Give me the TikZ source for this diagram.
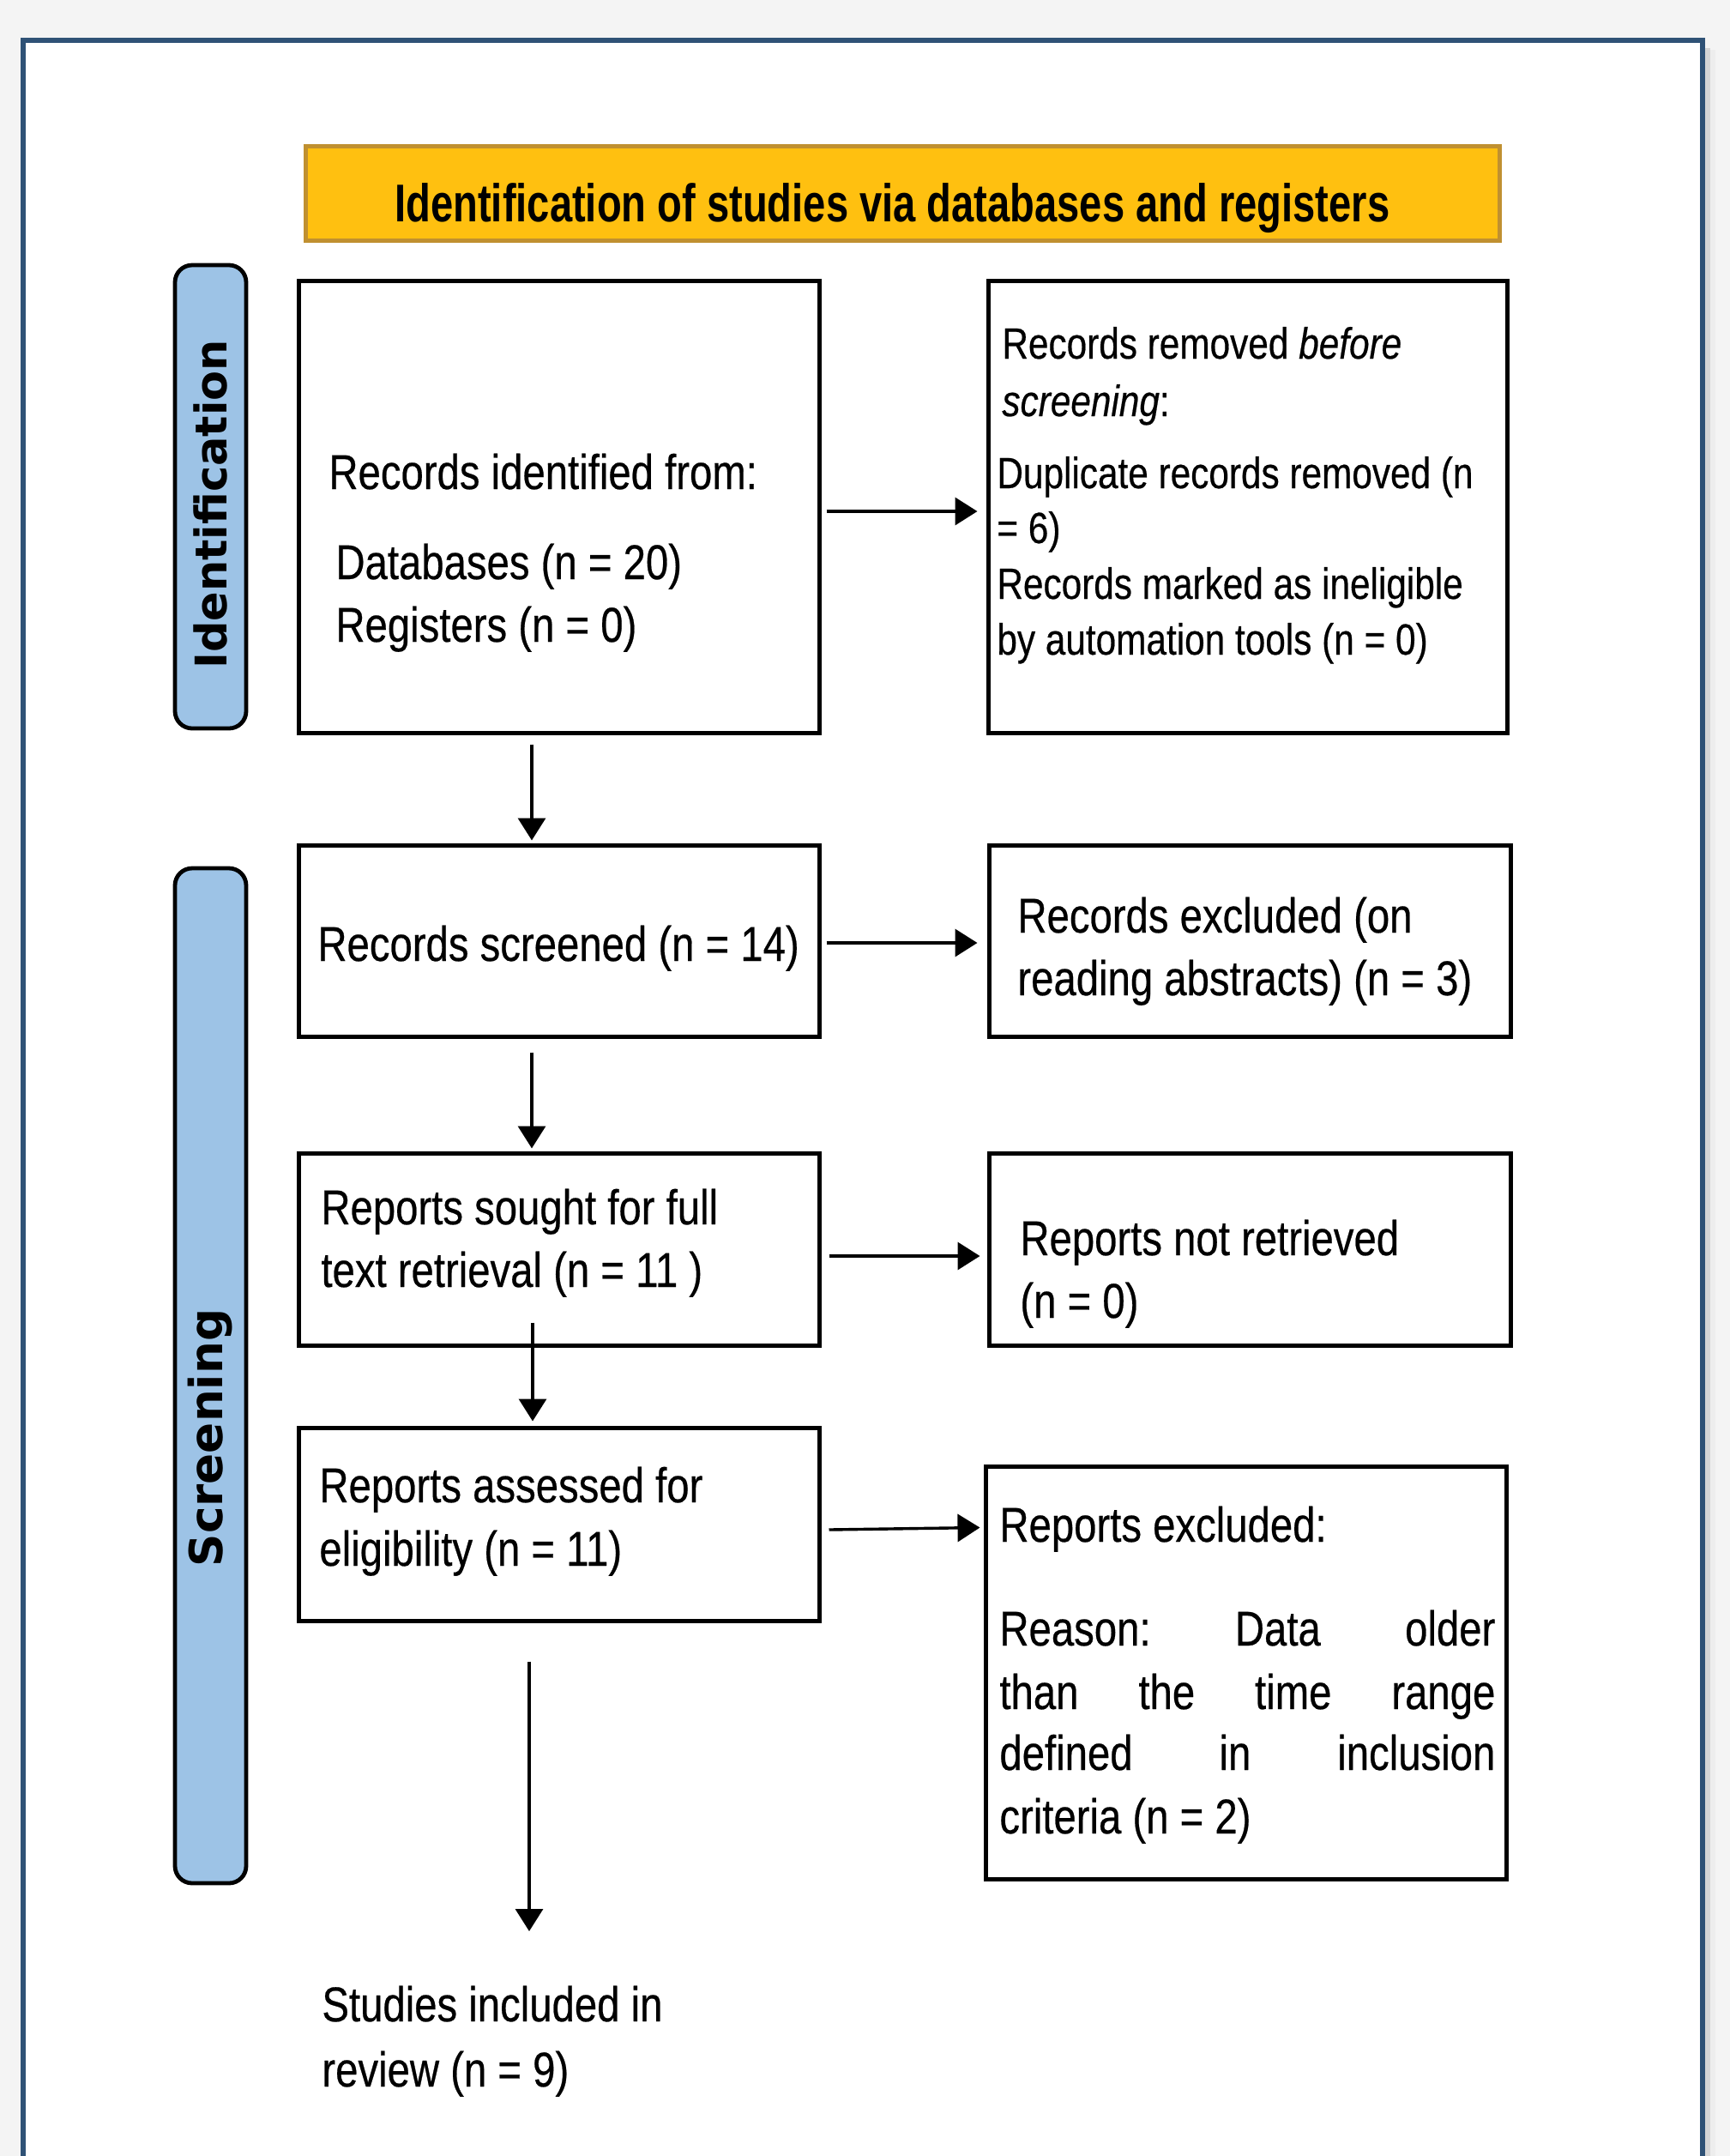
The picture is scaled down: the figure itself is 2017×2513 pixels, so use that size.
\documentclass[tikz,border=0pt]{standalone}
\usepackage{fontspec}
\setmainfont{Liberation Sans}[FakeStretch=0.83,FakeBold=0.4]
\newfontfamily\hdfont{Liberation Sans}[FakeStretch=0.76]
\newfontfamily\sidefont{DejaVu Sans}
\usetikzlibrary{arrows.meta,fit}
\definecolor{bgc}{RGB}{244,244,244}
\definecolor{framec}{RGB}{47,82,118}
\definecolor{hdfill}{RGB}{255,192,16}
\definecolor{hdline}{RGB}{192,144,48}
\definecolor{sidefill}{RGB}{157,195,230}
\tikzset{
  boxnode/.style={draw=black, line width=2.5pt, inner sep=0pt, fill=white},
  txt/.style={inner sep=0pt, anchor=base west, font=\fontsize{28.5pt}{36.5pt}\selectfont},
  smalltxt/.style={inner sep=0pt, anchor=base west, font=\fontsize{25.5pt}{32.5pt}\selectfont},
  arr/.style={line width=1.7pt, -{Triangle[length=13pt,width=16pt]}},
  sidebox/.style={draw=black, line width=2.4pt, fill=sidefill, rounded corners=10pt, inner sep=0pt},
  sidetxt/.style={rotate=90, inner sep=0pt, font=\sidefont\bfseries\fontsize{25.5pt}{30pt}\selectfont},
}
\begin{document}
\begin{tikzpicture}[x=0.5pt,y=-0.5pt]
\useasboundingbox (0,0) rectangle (2017,2513);
% page background and frame
\fill[bgc] (0,0) rectangle (2017,2513);
\fill[black!16] (1988,56) rectangle (1994,2513);
\fill[black!7] (1994,58) rectangle (2000,2513);
\fill[white] (27,47) rectangle (1985,2513);
\draw[framec, line width=2.6pt] (27,2513) -- (27,47) -- (1985,47) -- (1985,2513);

% header
\node[fit={(356,170) (1748,280)}, fill=hdfill, draw=hdline, line width=2.5pt, inner sep=0pt] (HD) {};
\node[anchor=base west, inner sep=0pt, font=\hdfont\bfseries\fontsize{31pt}{36pt}\selectfont] (HDT) at (460,258) {Identification of studies via databases and registers};

% side labels
\node[sidebox, fit={(204,309) (287,849)}] (SI) {};
\node[sidetxt] (SIT) at (245,588) {Identification};
\node[sidebox, fit={(204,1012) (287,2195)}] (SS) {};
\node[sidetxt, font=\sidefont\bfseries\fontsize{26.6pt}{30pt}\selectfont] (SST) at (245,1676) {Screening};

% boxes
\node[boxnode, fit={(348,327) (955,854)}] (A) {};
\node[boxnode, fit={(1152,327) (1757,854)}] (B) {};
\node[boxnode, fit={(348,985) (955,1208)}] (C) {};
\node[boxnode, fit={(1153,985) (1761,1208)}] (D) {};
\node[boxnode, fit={(348,1344) (955,1568)}] (E) {};
\node[boxnode, fit={(1153,1344) (1761,1568)}] (F) {};
\node[boxnode, fit={(348,1664) (955,1889)}] (G) {};
\node[boxnode, fit={(1149,1709) (1756,2190)}] (H) {};

% texts
\node[txt] (A1) at (383,570) {Records identified from:};
\node[txt] (A2) at (391,675) {Databases (n = 20)};
\node[txt] (A3) at (391,748) {Registers (n = 0)};

\node[smalltxt] (B1) at (1168,418) {Records removed \textit{before}};
\node[smalltxt] (B2) at (1168,485) {\textit{screening}:};
\node[smalltxt] (B3) at (1162,569) {Duplicate records removed (n};
\node[smalltxt] (B4) at (1162,633) {= 6)};
\node[smalltxt] (B5) at (1162,698) {Records marked as ineligible};
\node[smalltxt] (B6) at (1162,763) {by automation tools (n = 0)};

\node[txt] (C1) at (370,1120) {Records screened (n = 14)};

\node[txt] (D1) at (1186,1087) {Records excluded (on};
\node[txt] (D2) at (1186,1160) {reading abstracts) (n = 3)};

\node[txt] (E1) at (374,1427) {Reports sought for full};
\node[txt] (E2) at (374,1500) {text retrieval (n = 11 )};

\node[txt] (F1) at (1189,1463) {Reports not retrieved};
\node[txt] (F2) at (1189,1536) {(n = 0)};

\node[txt] (G1) at (372,1751) {Reports assessed for};
\node[txt] (G2) at (372,1825) {eligibility (n = 11)};

\node[txt] (H1) at (1165,1797) {Reports excluded:};
\node[txt] (H2) at (1165,1918) {\hbox to 289pt{Reason:\hfill Data\hfill older}};
\node[txt] (H3) at (1165,1992) {\hbox to 289pt{than\hfill the\hfill time\hfill range}};
\node[txt] (H4) at (1165,2063) {\hbox to 289pt{defined\hfill in\hfill inclusion}};
\node[txt] (H5) at (1165,2137) {criteria (n = 2)};

\node[txt] (I1) at (375,2356) {Studies included in};
\node[txt] (I2) at (375,2432) {review (n = 9)};
\coordinate (Itop) at (617,2251);

% horizontal arrows
\draw[arr] ([xshift=3pt,yshift=-2.75pt]A.east) -- ([xshift=-5pt,yshift=-2.75pt]B.west);
\draw[arr] ([xshift=3pt,yshift=-1.25pt]C.east) -- ([xshift=-5.5pt,yshift=-1.25pt]D.west);
\draw[arr] ([xshift=4.5pt,yshift=-4pt]E.east) -- ([xshift=-4pt,yshift=-4pt]F.west);
\draw[arr] ([xshift=4.5pt,yshift=-3.25pt]G.east) -- ([xshift=-2pt,yshift=-37pt]H.north west);

% vertical arrows
\draw[arr] ([xshift=-15.75pt,yshift=-5.5pt]A.south) -- ([xshift=-15.75pt,yshift=1.5pt]C.north);
\draw[arr] ([xshift=-15.75pt,yshift=-8pt]C.south) -- ([xshift=-15.75pt,yshift=1.5pt]E.north);
\draw[arr] ([xshift=-15.25pt,yshift=14.5pt]E.south) -- ([xshift=-15.25pt,yshift=2.5pt]G.north);
\draw[arr] ([xshift=-17.25pt,yshift=-22.5pt]G.south) -- (Itop);
\end{tikzpicture}
\end{document}
